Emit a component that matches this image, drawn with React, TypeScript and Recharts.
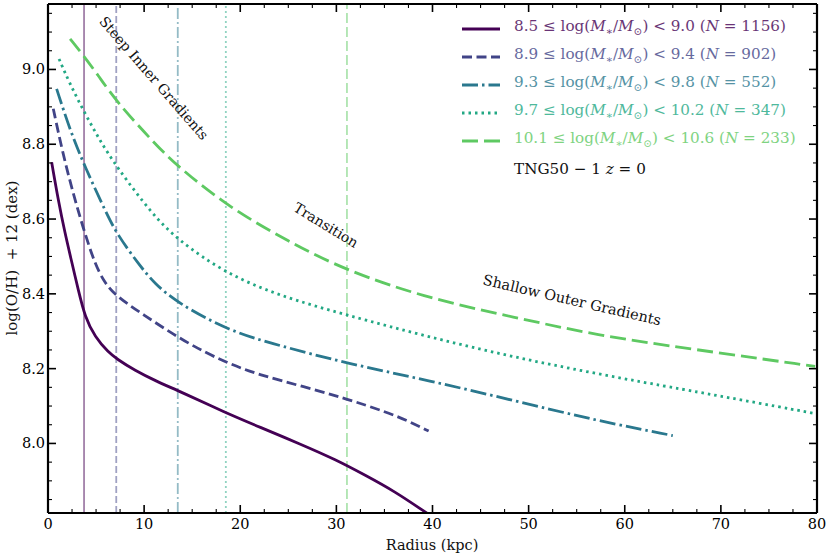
import { LineChart, Line, XAxis, YAxis, ReferenceLine, Legend } from "recharts";

// radius (kpc) and 12 + log(O/H), one pair per mass bin
const RADIUS_1 = [0.38, 1.07, 1.77, 2.4, 3.16, 3.85, 4.89, 6.27, 7.15, 9.05, 11.13, 13.9, 18.4, 22, 26.2, 30, 33, 36, 39.5];
const OH_1 = [8.752, 8.65, 8.562, 8.493, 8.409, 8.338, 8.284, 8.244, 8.226, 8.195, 8.168, 8.137, 8.083, 8.044, 7.999, 7.956, 7.915, 7.873, 7.812];

const RADIUS_2 = [0.55, 1.5, 2.6, 3.67, 4.9, 5.9, 6.97, 9.75, 14.25, 18.4, 22, 26.6, 31.1, 35.2, 37.5, 39.6];
const OH_2 = [8.895, 8.78, 8.67, 8.575, 8.478, 8.43, 8.396, 8.347, 8.271, 8.217, 8.183, 8.152, 8.119, 8.084, 8.06, 8.033];

const RADIUS_3 = [0.9, 2.3, 3.85, 6.1, 7.15, 9.4, 11.1, 13.5, 18.9, 24, 31.1, 39.7, 48.4, 57.1, 65];
const OH_3 = [8.948, 8.837, 8.739, 8.614, 8.561, 8.48, 8.427, 8.375, 8.3, 8.262, 8.214, 8.168, 8.115, 8.061, 8.021];

const RADIUS_4 = [1.15, 2.3, 3.85, 5.4, 7.15, 10.8, 13.5, 18.4, 24, 31.1, 39.7, 48.4, 57.1, 66.6, 72, 79.8];
const OH_4 = [9.028, 8.96, 8.882, 8.81, 8.739, 8.614, 8.544, 8.456, 8.395, 8.343, 8.284, 8.231, 8.186, 8.142, 8.117, 8.08];

const RADIUS_5 = [2.3, 3.67, 5.2, 7.15, 10.95, 13.5, 18.9, 25, 31.1, 39.7, 48.4, 57.1, 66.8, 79.8];
const OH_5 = [9.082, 9.038, 8.985, 8.913, 8.806, 8.74, 8.63, 8.54, 8.461, 8.387, 8.338, 8.289, 8.253, 8.206];

// transition radius for each bin (vertical lines)
const BREAK_RADII = [3.75, 7.1, 13.5, 18.5, 31.1];

const MASS_LOW = ["8.5", "8.9", "9.3", "9.7", "10.1"];
const MASS_HIGH = ["9.0", "9.4", "9.8", "10.2", "10.6"];
const COUNTS = [1156, 902, 552, 347, 233];

const COLORS = ["#440154", "#414487", "#2a788e", "#22a884", "#5ec962"];
const DASHES = ["", "10 4.5", "16 4 2.5 4", "2.5 4", "16 6"];
const VLINE_DASHES = ["", "7 3", "11 3 2 3", "2 3", "10 4"];

const X_MAJOR = [0, 10, 20, 30, 40, 50, 60, 70, 80];
const Y_MAJOR = [8.0, 8.2, 8.4, 8.6, 8.8, 9.0];
const X_TICKS = Array.from({ length: 33 }, (_, i) => i * 2.5);
const Y_TICKS = Array.from({ length: 27 }, (_, i) => +(7.85 + 0.05 * i).toFixed(2));

const FONT = "'DejaVu Serif', 'Liberation Serif', serif";

const series = [
  [RADIUS_1, OH_1],
  [RADIUS_2, OH_2],
  [RADIUS_3, OH_3],
  [RADIUS_4, OH_4],
  [RADIUS_5, OH_5],
].map(([r, v]) => r.map((x, i) => ({ r: x, oh: v[i] })));

const isXMajor = (v: number) => X_MAJOR.includes(v);
const isYMajor = (v: number) => Y_MAJOR.some((m) => Math.abs(m - v) < 1e-6);

const XTick = ({ x, y, payload, top }: any) => {
  const major = isXMajor(payload.value);
  const len = major ? 8 : 4;
  return (
    <g>
      <line x1={x} x2={x} y1={y} y2={top ? y + len : y - len} stroke="#000" strokeWidth={major ? 1.6 : 1.1} />
      {!top && major && (
        <text x={x} y={y + 16} textAnchor="middle" fontFamily={FONT} fontSize={14.5} fill="#000">
          {payload.value}
        </text>
      )}
    </g>
  );
};

const YTick = ({ x, y, payload, right }: any) => {
  const major = isYMajor(payload.value);
  const len = major ? 8 : 4;
  return (
    <g>
      <line x1={x} x2={right ? x - len : x + len} y1={y} y2={y} stroke="#000" strokeWidth={major ? 1.6 : 1.1} />
      {!right && major && (
        <text x={x - 3} y={y + 5} textAnchor="end" fontFamily={FONT} fontSize={14.5} fill="#000">
          {payload.value.toFixed(1)}
        </text>
      )}
    </g>
  );
};

const MassLabel = ({ i }: { i: number }) => (
  <span>
    {MASS_LOW[i]} ≤ log(<i>M</i>
    <sub style={{ fontSize: 10.5 }}>∗</sub>/<i>M</i>
    <sub style={{ fontSize: 10.5 }}>⊙</sub>) &lt; {MASS_HIGH[i]} (<i>N</i> = {COUNTS[i]})
  </span>
);

const LegendBox = () => (
  <div style={{ fontFamily: FONT, fontSize: 15.2, lineHeight: "28px" }}>
    {COLORS.map((c, i) => (
      <div key={i} style={{ display: "flex", alignItems: "center", height: 28 }}>
        <svg width={52} height={10} style={{ flex: "none" }}>
          <line x1={0} x2={38} y1={5} y2={5} stroke={c} strokeWidth={2.8} strokeDasharray={DASHES[i]} />
        </svg>
        <span style={{ color: c, opacity: 0.8, whiteSpace: "nowrap" }}>
          <MassLabel i={i} />
        </span>
      </div>
    ))}
    <div style={{ height: 28, paddingLeft: 52, color: "#111", whiteSpace: "nowrap" }}>
      TNG50 − 1 <i>z</i> = 0
    </div>
  </div>
);

export default function App() {
  return (
    <div style={{ position: "relative", width: 830, height: 557, background: "#fff" }}>
      <style>{`body{margin:0}`}</style>
      <LineChart width={830} height={557} margin={{ top: 0, right: 0, bottom: 0, left: 0 }}>
        <XAxis
          xAxisId="bottom"
          dataKey="r"
          type="number"
          domain={[0, 80]}
          ticks={X_TICKS}
          interval={0}
          height={44}
          tickSize={0}
          tickMargin={0}
          tickLine={false}
          axisLine={{ stroke: "#000", strokeWidth: 2.2 }}
          tick={<XTick />}
          allowDataOverflow
        />
        <XAxis
          xAxisId="top"
          orientation="top"
          dataKey="r"
          type="number"
          domain={[0, 80]}
          ticks={X_TICKS}
          interval={0}
          height={4}
          tickSize={0}
          tickMargin={0}
          tickLine={false}
          axisLine={{ stroke: "#000", strokeWidth: 2.2 }}
          tick={<XTick top />}
          allowDataOverflow
        />
        <YAxis
          yAxisId="left"
          type="number"
          domain={[7.814, 9.175]}
          ticks={Y_TICKS}
          interval={0}
          width={48}
          tickSize={0}
          tickMargin={0}
          tickLine={false}
          axisLine={{ stroke: "#000", strokeWidth: 2.2 }}
          tick={<YTick />}
          allowDataOverflow
        />
        <YAxis
          yAxisId="right"
          orientation="right"
          type="number"
          domain={[7.814, 9.175]}
          ticks={Y_TICKS}
          interval={0}
          width={13}
          tickSize={0}
          tickMargin={0}
          tickLine={false}
          axisLine={{ stroke: "#000", strokeWidth: 2.2 }}
          tick={<YTick right />}
          allowDataOverflow
        />
        {BREAK_RADII.map((r, i) => (
          <ReferenceLine
            key={`v${i}`}
            xAxisId="bottom"
            yAxisId="left"
            x={r}
            stroke={COLORS[i]}
            strokeOpacity={0.5}
            strokeWidth={1.8}
            strokeDasharray={VLINE_DASHES[i]}
          />
        ))}
        {series.map((d, i) => (
          <Line
            key={i}
            xAxisId="bottom"
            yAxisId="left"
            data={d}
            dataKey="oh"
            type="basis"
            stroke={COLORS[i]}
            strokeWidth={2.8}
            strokeDasharray={DASHES[i]}
            dot={false}
            activeDot={false}
            isAnimationActive={false}
          />
        ))}
        <Legend
          layout="vertical"
          align="center"
          verticalAlign="middle"
          wrapperStyle={{ top: 15, left: 462, width: 360 }}
          content={() => <LegendBox />}
        />
      </LineChart>
      <svg
        width={830}
        height={557}
        style={{ position: "absolute", left: 0, top: 0, pointerEvents: "none" }}
        fontFamily={FONT}
        fill="#111"
      >
        <text x={154} y={78} fontSize={14} textAnchor="middle" dominantBaseline="central" transform="rotate(49 154 78)">
          Steep Inner Gradients
        </text>
        <text x={326} y={225} fontSize={14} textAnchor="middle" dominantBaseline="central" transform="rotate(31.5 326 225)">
          Transition
        </text>
        <text x={572} y={300} fontSize={14.5} textAnchor="middle" dominantBaseline="central" transform="rotate(13 572 300)">
          Shallow Outer Gradients
        </text>
        <text x={432} y={550} fontSize={14.5} textAnchor="middle">
          Radius (kpc)
        </text>
        <text x={17} y={258} fontSize={15} textAnchor="middle" transform="rotate(-90 17 258)" xmlSpace="preserve">
          log(O/H)  + 12 (dex)
        </text>
      </svg>
    </div>
  );
}
